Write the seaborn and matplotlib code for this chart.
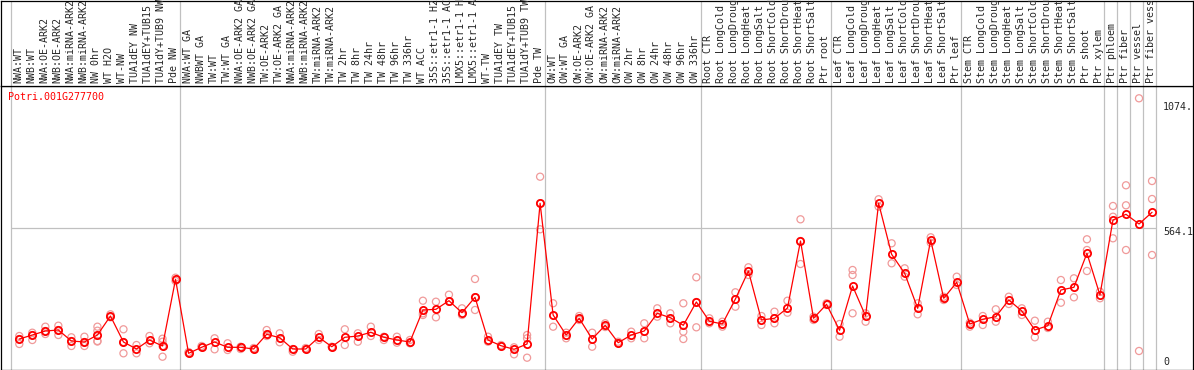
import numpy as np
import pandas as pd
import matplotlib
matplotlib.use("Agg")
import matplotlib.pyplot as plt
import seaborn as sns

# gene shown in the chart
gene = "Potri.001G277700"

# sample names, left to right
samples = [
    "NWA:WT", "NWB:WT", "NWA:OE-ARK2", "NWB:OE-ARK2", "NWA:miRNA-ARK2", "NWB:miRNA-ARK2",
    "NW 0hr", "WT H2O", "WT-NW", "TUA1dEY NW", "TUA1dEY+TUB15 NW", "TUA1dY+TUB9 NW", "Pde NW",
    "NWA:WT GA", "NWBWT GA", "TW:WT", "TW:WT GA", "NWA:OE-ARK2 GA", "NWB:OE-ARK2 GA",
    "TW:OE-ARK2", "TW:OE-ARK2 GA", "NWA:miRNA-ARK2", "NWB:miRNA-ARK2", "TW:miRNA-ARK2",
    "TW:miRNA-ARK2", "TW 2hr", "TW 8hr", "TW 24hr", "TW 48hr", "TW 96hr", "TW 336hr", "WT ACC",
    "35S::etr1-1 H2O", "35S::etr1-1 ACC", "LMX5::etr1-1 H2O", "LMX5::etr1-1 ACC", "WT-TW",
    "TUA1dEY TW", "TUA1dEY+TUB15 TW", "TUA1dY+TUB9 TW", "Pde TW",
    "OW:WT", "OW:WT GA", "OW:OE-ARK2", "OW:OE-ARK2 GA", "OW:miRNA-ARK2", "OW:miRNA-ARK2",
    "OW 2hr", "OW 8hr", "OW 24hr", "OW 48hr", "OW 96hr", "OW 336hr",
    "Root CTR", "Root LongCold", "Root LongDrought", "Root LongHeat", "Root LongSalt",
    "Root ShortCold", "Root ShortDrought", "Root ShortHeat", "Root ShortSalt", "Ptr root",
    "Leaf CTR", "Leaf LongCold", "Leaf LongDrought", "Leaf LongHeat", "Leaf LongSalt",
    "Leaf ShortCold", "Leaf ShortDrought", "Leaf ShortHeat", "Leaf ShortSalt", "Ptr leaf",
    "Stem CTR", "Stem LongCold", "Stem LongDrought", "Stem LongHeat", "Stem LongSalt",
    "Stem ShortCold", "Stem ShortDrought", "Stem ShortHeat", "Stem ShortSalt", "Ptr shoot",
    "Ptr xylem", "Ptr phloem", "Ptr fiber", "Ptr vessel", "Ptr fiber vessel",
]

# first sample of each group (group separators)
group_starts = [0, 13, 41, 53, 63, 73, 84, 85, 86, 87, 88]

# mean expression per sample
means = [
    129.8, 145.5, 161.2, 165.1, 122.0, 118.1, 145.5, 220.0, 118.1, 90.6, 125.9, 102.4, 364.0,
    73.7, 97.3, 118.1, 97.3, 97.3, 90.6, 148.3, 134.9, 90.6, 90.6, 136.5, 99.6, 136.5, 141.6,
    156.1, 136.5, 125.9, 118.1, 243.6, 246.3, 280.0, 233.0, 293.4, 125.9, 103.5, 89.4, 110.2, 662.1,
    224.0, 145.5, 211.0, 129.8, 183.6, 115.3, 145.5, 161.2, 230.6, 213.4, 183.6, 275.0,
    199.3, 188.7, 286.7, 396.5, 204.4, 211.0, 251.4, 514.2, 211.0, 265.9,
    164.0, 337.7, 220.0, 662.1, 462.0, 387.5, 250.2, 518.1, 289.5, 352.2,
    188.7, 207.1, 217.3, 282.8, 239.6, 165.1, 182.0, 322.0, 332.6, 466.0, 302.4,
    596.6, 618.9, 580.9, 626.8,
]

# replicate values per sample
reps = [
    [141.6, 129.8, 110.2], [154.5, 145.5, 125.9], [178.1, 161.2, 149.4], [182.0, 165.1, 145.5],
    [136.5, 122.0, 102.4], [138.8, 118.1, 102.4], [178.1, 162.4, 122.0, 120.0], [226.7, 214.9],
    [167.9, 118.1, 73.7], [106.3, 73.7], [141.6, 113.0], [131.0, 119.2, 102.4, 60.4], [370.3, 357.3],
    [73.7, 78.8], [102.4, 97.3], [132.6, 89.4], [113.0, 86.7], [99.6, 90.6], [90.6, 94.5],
    [165.1, 148.3, 141.6], [152.2, 116.9], [90.6, 80.0], [90.6, 94.5], [149.4, 125.9], [99.6, 98.0],
    [167.9, 106.3], [152.2, 119.2], [178.1, 141.6], [138.8, 125.9], [138.8, 115.3], [125.9, 113.0],
    [280.0, 230.6, 224.0], [276.1, 214.9], [303.6, 276.1], [250.2, 224.0], [365.2, 294.0, 243.6],
    [138.8, 119.2], [106.3, 102.4], [97.3, 69.8], [145.5, 132.6, 56.5], [766.4, 662.1, 560.1],
    [269.9, 178.1], [154.5, 132.6], [220.0, 204.4], [154.5, 99.6], [191.4, 176.9], [119.2, 113.0],
    [158.5, 132.6], [191.4, 132.6], [250.2, 217.3], [230.6, 191.4], [269.9, 158.5, 129.8],
    [371.8, 275.0, 175.7],
    [211.0, 191.4], [197.7, 178.1], [313.0, 256.5], [411.1, 380.9], [220.0, 184.7], [236.9, 191.4],
    [280.0, 233.0], [599.3, 514.2, 424.0], [217.3, 204.4], [269.9, 263.2],
    [188.7, 138.8], [400.5, 380.9, 230.6], [230.6, 197.7], [677.8, 648.8], [505.2, 426.7],
    [407.1, 374.2], [269.9, 226.7], [528.7, 507.5], [295.7, 282.8], [374.2, 341.6],
    [193.8, 178.1], [220.0, 184.7], [246.3, 197.7], [295.7, 267.1], [250.2, 224.0], [201.6, 136.5],
    [197.7, 173.0], [361.2, 272.2], [367.9, 293.4], [520.9, 478.9, 396.5], [315.4, 289.5],
    [651.5, 609.5, 524.8], [732.7, 654.2, 478.9], [1073.9, 82.8], [749.5, 678.9, 459.3],
]

tick_values = [0, 564.1, 1074]
tick_labels = ["0", "564.1", "1074."]

df_mean = pd.DataFrame({"idx": np.arange(len(samples)), "sample": samples, "value": means})
df_rep = pd.DataFrame(
    [(i, v) for i, vals in enumerate(reps) for v in vals], columns=["idx", "value"]
)

sns.set_style("white")
plt.rcParams["font.family"] = ["DejaVu Sans Mono"]
plt.rcParams["font.size"] = 7.2

W, H = 1194, 370
fig = plt.figure(figsize=(W / 100, H / 100), dpi=100)

# plot area below, label strip above
ax = fig.add_axes([0.5 / W, 0.5 / H, 1192 / W, 284 / H])
ax_lab = fig.add_axes([0.5 / W, 284.5 / H, 1192 / W, 85 / H])

xlim = (-1.444, 90.108)
for a in (ax, ax_lab):
    a.set_xlim(*xlim)
    a.set_xticks([])
    a.set_yticks([])
    for s in a.spines.values():
        s.set_color("black")
        s.set_linewidth(0.9)
    for k in group_starts:
        a.axvline(k - 0.66, color="#c0c0c0", lw=0.9, zorder=0)
ax.set_ylim(10.2, 1124.1)
ax_lab.set_ylim(0, 1)

ax.hlines(564.1, -0.66, len(samples) - 0.66, color="#c0c0c0", lw=0.9, zorder=0)

sns.scatterplot(data=df_rep, x="idx", y="value", ax=ax, marker="o", s=26,
                facecolors="none", edgecolors="#f09a9a", linewidths=0.9, zorder=2)
sns.lineplot(data=df_mean, x="idx", y="value", ax=ax, color="red", lw=0.9,
             marker="o", markersize=5.2, markerfacecolor="none",
             markeredgecolor="red", markeredgewidth=1.3, zorder=3)
ax.set_xlabel("")
ax.set_ylabel("")
ax.set_xlim(*xlim)

# sample labels
for i, name in enumerate(samples):
    ax_lab.text(i - 0.08, 0.03, name, rotation=90, ha="center", va="bottom",
                transform=ax_lab.get_xaxis_transform(), clip_on=False)

# value labels on the right
offsets = [10, -4, -9]
for v, lab, off in zip(tick_values, tick_labels, offsets):
    ax.annotate(lab, xy=(87.84, v), xytext=(0, off), textcoords="offset pixels",
                ha="left", va="center", annotation_clip=False)

ax.text(7.5 / 1192, 1 - 11.5 / 284, gene, color="red", transform=ax.transAxes,
        ha="left", va="center")

fig.savefig("out.png", dpi=100)
